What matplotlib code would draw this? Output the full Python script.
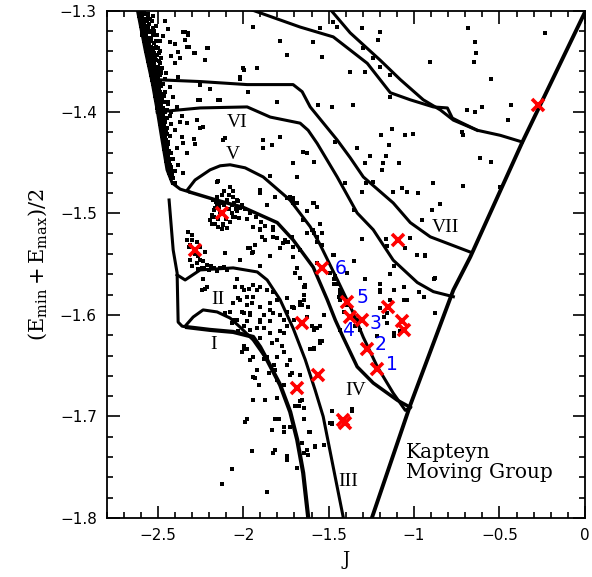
import numpy as np
import matplotlib
matplotlib.use('Agg')
import matplotlib.pyplot as plt

plt.rcParams['mathtext.fontset'] = 'dejavuserif'

# ---- curves (J, E) ----
env_J = [-2.625, -2.574, -2.533, -2.504, -2.475, -2.446, -2.416, -2.369, -2.311]
env_E = [-1.295, -1.339, -1.371, -1.398, -1.428, -1.457, -1.470, -1.476, -1.479]

iv_J = [-2.311, -2.153, -2.000, -1.801, -1.708, -1.590, -1.508, -1.461, -1.415,
        -1.333, -1.239, -1.098, -1.022]
iv_E = [-1.479, -1.487, -1.494, -1.509, -1.526, -1.553, -1.585, -1.605, -1.622,
        -1.651, -1.667, -1.684, -1.691]

v_J = [-2.328, -2.282, -2.194, -2.135, -2.077, -1.989, -1.883, -1.725, -1.608,
       -1.549, -1.450, -1.356, -1.297, -1.215, -1.122, -1.051, -1.022]
v_E = [-1.477, -1.467, -1.457, -1.453, -1.452, -1.455, -1.464, -1.487, -1.513,
       -1.531, -1.565, -1.598, -1.622, -1.651, -1.677, -1.694, -1.691]

vi_J = [-2.504, -2.252, -1.977, -1.842, -1.667, -1.620, -1.567, -1.450, -1.333,
        -1.239, -1.122, -0.981, -0.887, -0.770]
vi_E = [-1.400, -1.396, -1.395, -1.405, -1.411, -1.418, -1.431, -1.464, -1.4995,
        -1.516, -1.546, -1.568, -1.577, -1.582]

vii_J = [-2.535, -2.252, -1.977, -1.708, -1.655, -1.608, -1.450, -1.374, -1.297,
         -1.122, -1.022, -0.905, -0.671]
vii_E = [-1.368, -1.370, -1.373, -1.373, -1.380, -1.395, -1.4276, -1.445, -1.464,
         -1.4896, -1.509, -1.523, -1.538]

a1_J = [-1.500, -1.374, -1.198, -1.081, -0.946, -0.846, -0.770, -0.630, -0.495, -0.366]
a1_E = [-1.297, -1.322, -1.349, -1.368, -1.388, -1.398, -1.408, -1.418, -1.423, -1.4296]

a2_J = [-1.990, -1.667, -1.473, -1.274, -1.139, -1.022, -0.887, -0.805, -0.776,
        -0.729, -0.630]
a2_E = [-1.297, -1.3163, -1.326, -1.352, -1.381, -1.388, -1.395, -1.396, -1.406,
        -1.410, -1.418]

iii_J = [-2.387, -2.340, -2.252, -2.059, -1.918, -1.860, -1.784, -1.708, -1.637,
         -1.579, -1.532, -1.473, -1.415, -1.405]
iii_E = [-1.5605, -1.5655, -1.5556, -1.5536, -1.5576, -1.5655, -1.585, -1.613, -1.644,
         -1.674, -1.700, -1.750, -1.799, -1.81]

vert_J = [-2.434, -2.410, -2.387, -2.381, -2.358, -2.328]
vert_E = [-1.4867, -1.536, -1.5586, -1.607, -1.611, -1.612]

i_low_J = [-2.328, -2.194, -2.059, -1.942, -1.901, -1.860, -1.784, -1.725, -1.684,
           -1.649, -1.620, -1.617]
i_low_E = [-1.612, -1.6147, -1.6167, -1.6216, -1.6315, -1.6443, -1.6689, -1.6955,
           -1.723, -1.7556, -1.799, -1.81]

i_up_J = [-2.340, -2.293, -2.235, -2.153, -2.077, -2.018, -1.942, -1.860]
i_up_E = [-1.611, -1.602, -1.595, -1.597, -1.603, -1.612, -1.6246, -1.6443]

edge_J = [0.02, 0.005, -0.366, -0.671, -0.770, -1.022, -1.245, -1.27]
edge_E = [-1.285, -1.300, -1.4296, -1.5429, -1.5754, -1.6887, -1.799, -1.81]

# ---- stars: dense clump along the circular-orbit edge ----
clump_J = [-2.613, -2.598, -2.582, -2.608, -2.590, -2.604, -2.575, -2.548,
           -2.600, -2.582, -2.597, -2.568, -2.591, -2.562, -2.542, -2.522,
           -2.585, -2.583, -2.567, -2.548, -2.580, -2.540, -2.512, -2.490,
           -2.574, -2.555, -2.570, -2.522, -2.500, -2.567, -2.545, -2.527,
           -2.562, -2.538, -2.505, -2.558, -2.515, -2.480, -2.555, -2.532, -2.495,
           -2.550, -2.520, -2.546, -2.510, -2.475, -2.542, -2.528, -2.500,
           -2.537, -2.515, -2.490, -2.532, -2.505, -2.527, -2.513, -2.495, -2.470,
           -2.523, -2.500, -2.518, -2.505, -2.485, -2.455, -2.514, -2.495, -2.465,
           -2.510, -2.498, -2.478, -2.506, -2.488, -2.440, -2.502, -2.470,
           -2.498, -2.487, -2.455, -2.494, -2.478, -2.430, -2.490, -2.480, -2.462,
           -2.486, -2.468, -2.420, -2.482, -2.472, -2.445, -2.478, -2.458,
           -2.474, -2.465, -2.430, -2.470, -2.452, -2.466, -2.455, -2.440,
           -2.462, -2.448, -2.458, -2.448, -2.420, -2.454, -2.438, -2.450, -2.440,
           -2.446, -2.430, -2.442, -2.432, -2.437, -2.422, -2.425, -2.410,
           -2.412, -2.398]
clump_E = [-1.302, -1.302, -1.302, -1.305, -1.305, -1.308, -1.308, -1.308,
           -1.312, -1.312, -1.315, -1.315, -1.320, -1.320, -1.320, -1.320,
           -1.323, -1.327, -1.327, -1.327, -1.330, -1.330, -1.330, -1.330,
           -1.334, -1.334, -1.337, -1.337, -1.337, -1.340, -1.340, -1.340,
           -1.344, -1.344, -1.344, -1.347, -1.347, -1.347, -1.350, -1.350, -1.350,
           -1.354, -1.354, -1.357, -1.357, -1.357, -1.360, -1.360, -1.360,
           -1.364, -1.364, -1.364, -1.368, -1.368, -1.372, -1.372, -1.372, -1.372,
           -1.376, -1.376, -1.380, -1.380, -1.380, -1.380, -1.384, -1.384, -1.384,
           -1.388, -1.388, -1.388, -1.392, -1.392, -1.392, -1.396, -1.396,
           -1.400, -1.400, -1.400, -1.404, -1.404, -1.404, -1.408, -1.408, -1.408,
           -1.412, -1.412, -1.412, -1.416, -1.416, -1.416, -1.420, -1.420,
           -1.424, -1.424, -1.424, -1.428, -1.428, -1.432, -1.432, -1.432,
           -1.436, -1.436, -1.440, -1.440, -1.440, -1.444, -1.444, -1.448, -1.448,
           -1.452, -1.452, -1.456, -1.456, -1.460, -1.460, -1.465, -1.465,
           -1.470, -1.470]

clump2_J = [-2.603, -2.570, -2.555, -2.595, -2.560, -2.590, -2.565, -2.535,
            -2.585, -2.552, -2.578, -2.555, -2.530, -2.575, -2.548,
            -2.592, -2.570, -2.530, -2.505, -2.562, -2.540, -2.570, -2.552, -2.525,
            -2.562, -2.540, -2.510, -2.555, -2.530, -2.550, -2.520, -2.495,
            -2.548, -2.530, -2.540, -2.512, -2.545, -2.525, -2.485, -2.535, -2.500,
            -2.530, -2.515, -2.525, -2.505, -2.480, -2.530, -2.520, -2.498,
            -2.522, -2.485, -2.518, -2.505, -2.480, -2.515, -2.492,
            -2.510, -2.500, -2.475, -2.505, -2.488, -2.500, -2.480, -2.460,
            -2.498, -2.484, -2.493, -2.478, -2.448, -2.490, -2.468,
            -2.485, -2.472, -2.445, -2.482, -2.460, -2.478, -2.465, -2.475, -2.452,
            -2.470, -2.445, -2.466, -2.456, -2.462, -2.440, -2.458, -2.448,
            -2.455, -2.435, -2.450, -2.440, -2.446, -2.428, -2.442, -2.432,
            -2.438, -2.422, -2.432, -2.415, -2.428, -2.418]
clump2_E = [-1.303, -1.303, -1.303, -1.306, -1.306, -1.310, -1.310, -1.310,
            -1.313, -1.313, -1.317, -1.317, -1.317, -1.321, -1.321,
            -1.324, -1.324, -1.324, -1.324, -1.328, -1.328, -1.332, -1.332, -1.332,
            -1.336, -1.336, -1.336, -1.339, -1.339, -1.342, -1.342, -1.342,
            -1.346, -1.346, -1.349, -1.349, -1.352, -1.352, -1.352, -1.356, -1.356,
            -1.359, -1.359, -1.362, -1.362, -1.362, -1.366, -1.366, -1.366,
            -1.370, -1.370, -1.374, -1.374, -1.374, -1.378, -1.378,
            -1.382, -1.382, -1.382, -1.386, -1.386, -1.390, -1.390, -1.390,
            -1.394, -1.394, -1.398, -1.398, -1.398, -1.402, -1.402,
            -1.406, -1.406, -1.406, -1.410, -1.410, -1.414, -1.414, -1.418, -1.418,
            -1.422, -1.422, -1.426, -1.426, -1.430, -1.430, -1.434, -1.434,
            -1.438, -1.438, -1.442, -1.442, -1.446, -1.446, -1.450, -1.450,
            -1.454, -1.454, -1.458, -1.458, -1.462, -1.462]

halo_J = [-2.350, -2.326, -2.340, -2.320, -2.213, -1.998, -2.018, -2.291, -2.369,
          -2.252, -2.194, -2.145, -2.262, -2.272, -2.252, -2.291, -2.106, -2.350,
          -2.281, -2.145, -2.330, -2.360, -2.379, -2.399, -2.428, -2.460, -2.440,
          -2.470, -2.420, -2.400, -2.450, -2.380, -2.430, -2.410, -2.390, -2.420,
          -2.370, -2.400, -2.360, -2.390, -2.330, -2.410, -2.380, -2.350, -2.400,
          -2.510, -2.530, -2.490, -2.460, -2.440, -2.480,
          -2.340, -2.323, -2.328, -2.282, -2.206, -2.223, -2.252, -2.135, -2.235,
          -2.282, -2.118, -2.153]
halo_E = [-1.321, -1.322, -1.329, -1.336, -1.337, -1.359, -1.367, -1.342, -1.347,
          -1.373, -1.377, -1.388, -1.388, -1.408, -1.416, -1.427, -1.426, -1.431,
          -1.432, -1.468, -1.411, -1.404, -1.341, -1.333, -1.331, -1.310, -1.318,
          -1.325, -1.345, -1.352, -1.362, -1.366, -1.375, -1.385, -1.395, -1.400,
          -1.410, -1.418, -1.425, -1.435, -1.440, -1.446, -1.452, -1.460, -1.458,
          -1.315, -1.305, -1.340, -1.367, -1.390, -1.360,
          -1.321, -1.324, -1.336, -1.342, -1.337, -1.349, -1.388, -1.388, -1.415,
          -1.432, -1.428, -1.469]

# two small clumps (around the stars at J~-2.12 and J~-2.28)
blob_J = [-2.174, -2.155, -2.135, -2.096, -2.067, -2.037, -2.018, -2.194, -2.164,
          -2.116, -2.077, -2.047, -2.125, -2.086, -2.028, -2.184, -2.145,
          -2.176, -2.153, -2.094, -2.077, -2.059, -2.035, -2.006, -2.182, -2.118,
          -2.059, -2.165, -2.135,
          -2.160, -2.140, -2.110, -2.085, -2.055, -2.045, -2.170, -2.150, -2.100,
          -2.065, -2.125, -2.095, -2.180, -2.025, -2.110, -2.060,
          -2.321, -2.301, -2.330, -2.311, -2.272, -2.252, -2.291, -2.262, -2.233,
          -2.213, -2.311, -2.243, -2.203, -2.174, -2.135, -2.096, -2.272, -2.223,
          -2.233, -2.223, -2.213,
          -2.300, -2.320, -2.285, -2.255, -2.300, -2.265, -2.230, -2.190, -2.155,
          -2.115]
blob_E = [-1.497, -1.492, -1.490, -1.487, -1.492, -1.498, -1.495, -1.506, -1.510,
          -1.510, -1.508, -1.503, -1.482, -1.482, -1.488, -1.501, -1.513,
          -1.487, -1.484, -1.487, -1.474, -1.484, -1.487, -1.492, -1.503, -1.511,
          -1.503, -1.495, -1.499,
          -1.489, -1.494, -1.492, -1.496, -1.490, -1.496, -1.503, -1.505, -1.505,
          -1.500, -1.515, -1.514, -1.510, -1.504, -1.478, -1.478,
          -1.518, -1.521, -1.526, -1.531, -1.528, -1.533, -1.538, -1.542, -1.547,
          -1.551, -1.546, -1.554, -1.556, -1.554, -1.554, -1.556, -1.549, -1.538,
          -1.565, -1.574, -1.572,
          -1.526, -1.533, -1.540, -1.546, -1.552, -1.555, -1.554, -1.552, -1.557,
          -1.553]

# scattered field stars
field_J = [-1.473, -1.450, -1.549, -1.590, -1.538, -1.303, -1.198, -1.210, -1.297,
           -1.239, -1.198, -1.374, -1.286, -1.139, -0.905, -0.682, -0.641, -0.635,
           -0.647, -0.231, -0.547, -1.561, -1.479, -1.356, -1.139, -0.688, -0.641,
           -0.600, -0.430, -0.448, -0.717, -0.711, -1.128, -1.192, -1.051, -1.004,
           -1.461, -1.145, -1.333, -1.649, -1.585, -1.257, -1.163, -0.612, -0.547,
           -1.286, -1.180, -1.087, -1.186, -1.239, -1.280, -1.403, -0.887, -0.711,
           -0.495, -1.122, -1.069, -1.040, -0.975, -1.303, -1.590, -0.846, -0.893,
           -1.350, -0.952, -1.022, -1.163, -1.157, -1.303, -0.981, -0.934, -1.051,
           -1.473,
           -2.000, -1.918, -2.018, -1.971, -1.801, -1.883, -1.830, -1.842, -1.684,
           -1.901, -1.813, -1.743, -1.708, -1.825, -1.889, -1.942, -1.930, -1.842,
           -1.737, -1.754, -1.713, -1.971, -1.942, -1.784, -1.743,
           -1.883, -1.784, -1.708, -1.626, -1.901, -1.725, -1.708, -1.567, -1.626,
           -1.538, -1.590, -1.626, -1.649, -1.942, -1.901, -1.872, -1.825, -1.766,
           -1.708, -1.947, -1.708,
           -1.990, -1.960, -1.925, -1.975, -1.895, -1.870]
field_E = [-1.311, -1.316, -1.317, -1.331, -1.346, -1.317, -1.321, -1.329, -1.337,
           -1.347, -1.356, -1.361, -1.361, -1.364, -1.351, -1.317, -1.331, -1.342,
           -1.351, -1.322, -1.367, -1.393, -1.395, -1.393, -1.385, -1.398, -1.400,
           -1.395, -1.393, -1.408, -1.420, -1.423, -1.417, -1.423, -1.423, -1.422,
           -1.430, -1.433, -1.435, -1.439, -1.449, -1.443, -1.443, -1.445, -1.449,
           -1.450, -1.450, -1.450, -1.457, -1.469, -1.470, -1.470, -1.470, -1.473,
           -1.474, -1.479, -1.475, -1.479, -1.480, -1.479, -1.490, -1.491, -1.497,
           -1.497, -1.506, -1.524, -1.525, -1.532, -1.525, -1.541, -1.542, -1.534,
           -1.541,
           -1.357, -1.357, -1.366, -1.380, -1.390, -1.435, -1.433, -1.463, -1.464,
           -1.477, -1.484, -1.485, -1.485, -1.513, -1.523, -1.513, -1.531, -1.542,
           -1.528, -1.526, -1.523, -1.534, -1.316, -1.330, -1.344,
           -1.428, -1.425, -1.450, -1.440, -1.480, -1.484, -1.490, -1.494, -1.498,
           -1.519, -1.516, -1.519, -1.506, -1.513, -1.516, -1.526, -1.523, -1.529,
           -1.533, -1.539, -1.543,
           -1.496, -1.500, -1.503, -1.505, -1.508, -1.512]

# stars in the lower part of the diagram
low_J = [-2.233, -2.223, -2.106, -2.018, -1.959, -1.940, -1.901, -1.862, -1.823,
         -1.803, -1.744, -1.686, -1.647, -1.618, -1.920, -1.901, -1.998, -2.018,
         -1.979, -2.037, -1.950, -1.901, -1.823, -1.764, -1.744, -1.803, -1.588,
         -1.569, -1.549, -1.666, -1.784, -1.901, -2.037, -2.028, -1.998, -2.106,
         -2.077, -2.067, -2.242,
         -2.213, -2.047, -2.008, -1.969, -2.028, -1.940, -2.057, -1.979, -2.008,
         -1.959, -1.901, -2.057, -1.881, -1.959, -1.998, -2.008, -1.979, -1.940,
         -1.881, -1.832, -1.803, -1.822, -1.852, -1.940, -1.910, -1.940, -1.989,
         -1.803, -1.793, -1.832, -1.950, -1.813, -1.744, -1.686, -1.627, -1.617,
         -1.647, -1.696, -1.666, -1.725, -1.666, -1.725, -1.637, -1.686, -1.696,
         -1.666, -1.657, -1.569, -1.588, -1.539, -1.608, -1.578, -1.530, -1.490,
         -2.067, -2.125, -1.862, -1.920, -1.901, -1.920, -1.842, -1.803, -1.774,
         -1.764, -1.783, -1.744, -1.627, -1.705, -1.881, -1.979, -1.842, -1.823,
         -1.862, -1.940, -1.666]
low_E = [-1.565, -1.574, -1.539, -1.546, -1.534, -1.538, -1.515, -1.492, -1.516,
         -1.524, -1.528, -1.554, -1.572, -1.592, -1.575, -1.572, -1.575, -1.585,
         -1.582, -1.565, -1.588, -1.592, -1.598, -1.605, -1.611, -1.585, -1.519,
         -1.528, -1.510, -1.536, -1.534, -1.552, -1.605, -1.616, -1.611, -1.598,
         -1.597, -1.608, -1.575,
         -1.572, -1.572, -1.572, -1.574, -1.583, -1.582, -1.588, -1.590, -1.597,
         -1.598, -1.605, -1.605, -1.613, -1.615, -1.631, -1.636, -1.634, -1.641,
         -1.643, -1.628, -1.641, -1.649, -1.657, -1.661, -1.669, -1.684, -1.705,
         -1.682, -1.702, -1.713, -1.734, -1.733, -1.743, -1.751, -1.733, -1.715,
         -1.702, -1.690, -1.685, -1.659, -1.659, -1.644, -1.570, -1.554, -1.559,
         -1.587, -1.590, -1.613, -1.633, -1.626, -1.715, -1.729, -1.728, -1.706,
         -1.752, -1.767, -1.774, -1.654, -1.623, -1.613, -1.606, -1.625, -1.631,
         -1.636, -1.616, -1.597, -1.602, -1.593, -1.600, -1.606, -1.588, -1.577,
         -1.575, -1.570, -1.564]

mid_J = [-1.998, -1.959, -1.901, -1.901, -1.842, -1.998, -1.959, -1.930, -1.940,
         -1.979, -1.813, -1.803, -1.764, -1.764, -1.715, -1.705, -1.588, -1.549,
         -1.608, -1.715, -1.657, -1.676, -1.647, -1.813, -1.764, -1.657, -1.618,
         -1.578, -1.744, -1.823, -1.950, -1.862, -1.666, -1.705, -1.764, -1.725,
         -1.481, -1.481, -1.364, -1.530, -1.432, -1.432, -1.842, -1.784, -1.862,
         -1.872, -1.744,
         -1.706, -1.686, -1.588, -1.598, -1.588, -1.569, -1.539, -1.471, -1.461,
         -1.452, -1.432, -1.442, -1.412, -1.735, -1.686, -1.696, -1.647, -1.569,
         -1.745, -1.637, -1.706, -1.598, -1.549, -1.286, -1.198, -1.120, -1.061,
         -1.139, -1.198, -1.159, -1.120, -1.217, -0.885, -0.944, -0.875, -0.983,
         -0.934, -1.471, -1.491, -1.422, -1.393, -1.334, -1.315, -1.364, -1.344,
         -1.471, -1.354, -1.393, -1.471, -1.432, -1.647, -1.578, -1.549, -1.588,
         -1.608, -1.578, -1.647, -1.481, -1.481, -1.364, -1.198, -1.120, -1.139,
         -1.061, -1.041, -0.983, -0.934, -0.875, -0.973, -1.178, -1.120, -1.081,
         -1.159, -1.198]
mid_E = [-1.598, -1.600, -1.592, -1.607, -1.618, -1.634, -1.644, -1.662, -1.684,
         -1.702, -1.654, -1.664, -1.669, -1.618, -1.592, -1.605, -1.615, -1.626,
         -1.634, -1.657, -1.684, -1.690, -1.692, -1.702, -1.715, -1.726, -1.738,
         -1.730, -1.739, -1.736, -1.734, -1.774, -1.590, -1.593, -1.710, -1.710,
         -1.695, -1.707, -1.693, -1.600, -1.585, -1.615, -1.595, -1.600, -1.641,
         -1.684, -1.649,
         -1.487, -1.490, -1.490, -1.516, -1.519, -1.523, -1.531, -1.541, -1.562,
         -1.569, -1.575, -1.582, -1.597, -1.528, -1.554, -1.559, -1.580, -1.549,
         -1.583, -1.572, -1.592, -1.611, -1.611, -1.565, -1.575, -1.575, -1.585,
         -1.585, -1.593, -1.598, -1.618, -1.621, -1.565, -1.582, -1.598, -1.541,
         -1.542, -1.565, -1.559, -1.580, -1.590, -1.605, -1.615, -1.603, -1.611,
         -1.541, -1.547, -1.559, -1.569, -1.579, -1.585, -1.613, -1.628, -1.634,
         -1.715, -1.729, -1.736, -1.695, -1.706, -1.695, -1.569, -1.552, -1.560,
         -1.572, -1.585, -1.541, -1.541, -1.564, -1.577, -1.602, -1.621, -1.616,
         -1.608, -1.577]

# Kapteyn group members (red crosses)
kap_J = [-2.123, -2.282, -0.272, -1.092, -1.538, -1.391, -1.374, -1.303, -1.274,
         -1.215, -1.151, -1.069, -1.057, -1.655, -1.561, -1.684, -1.418, -1.402]
kap_E = [-1.500, -1.536, -1.393, -1.526, -1.554, -1.587, -1.602, -1.605, -1.634,
         -1.653, -1.592, -1.606, -1.615, -1.608, -1.659, -1.672, -1.703, -1.706]

num_text = ['6', '5', '4', '3', '2', '1']
num_J = [-1.432, -1.303, -1.385, -1.227, -1.198, -1.128]
num_E = [-1.554, -1.583, -1.615, -1.608, -1.629, -1.649]

roman_text = ['VII', 'VI', 'V', 'IV', 'III', 'II', 'I']
roman_J = [-0.817, -2.036, -2.059, -1.344, -1.385, -2.147, -2.176]
roman_E = [-1.514, -1.410, -1.442, -1.674, -1.764, -1.585, -1.629]


fig = plt.figure(figsize=(5.92, 5.77), dpi=100)
ax = fig.add_axes([0.180, 0.1023, 0.808, 0.8795])

curves = [(env_J, env_E), (v_J, v_E), (vi_J, vi_E),
          (vii_J, vii_E), (a1_J, a1_E), (a2_J, a2_E), (iii_J, iii_E),
          (vert_J, vert_E), (i_up_J, i_up_E)]
for cj, ce in curves:
    ax.plot(cj, ce, color='black', lw=2.2, solid_joinstyle='round', zorder=3)
ax.plot(iv_J, iv_E, color='black', lw=2.5, solid_joinstyle='round', zorder=3)
ax.plot(i_low_J, i_low_E, color='black', lw=3.0, solid_joinstyle='round', zorder=3)
ax.plot(edge_J, edge_E, color='black', lw=2.8, zorder=3)

for sj, se in [(clump_J, clump_E), (clump2_J, clump2_E), (halo_J, halo_E),
               (blob_J, blob_E), (field_J, field_E), (low_J, low_E),
               (mid_J, mid_E)]:
    ax.plot(sj, se, 's', color='black', ms=2.5, mew=0, zorder=2)

ax.plot(kap_J, kap_E, 'x', color='red', ms=9, mew=2.6, zorder=5)

for t, xj, ye in zip(num_text, num_J, num_E):
    ax.text(xj, ye, t, color='blue', fontsize=13.5, ha='center', va='center',
            zorder=6)
for t, xj, ye in zip(roman_text, roman_J, roman_E):
    ax.text(xj, ye, t, color='black', fontsize=14, ha='center', va='center',
            family='Liberation Serif', zorder=6)
ax.text(-1.045, -1.745, 'Kapteyn\nMoving Group', fontsize=14.5, ha='left',
        va='center', family='DejaVu Serif', linespacing=1.05)

ax.set_xlim(-2.8, 0)
ax.set_ylim(-1.8, -1.3)
ax.set_xticks(np.arange(-2.5, 0.01, 0.5))
ax.set_xticks(np.arange(-2.8, 0.01, 0.1), minor=True)
ax.set_yticks(np.arange(-1.8, -1.29, 0.1))
ax.set_yticks(np.arange(-1.8, -1.29, 0.02), minor=True)
ax.set_xticklabels(['\u22122.5', '\u22122', '\u22121.5', '\u22121', '\u22120.5', '0'])
ax.set_yticklabels(['\u22121.8', '\u22121.7', '\u22121.6', '\u22121.5', '\u22121.4', '\u22121.3'])
ax.tick_params(which='both', direction='in', top=True, right=True, width=1.2)
ax.tick_params(which='major', length=9, labelsize=11, pad=7)
ax.tick_params(which='minor', length=4.5)
for s in ax.spines.values():
    s.set_linewidth(1.3)

ax.set_xlabel('J', fontsize=13, family='DejaVu Serif', labelpad=6)
ax.set_ylabel(r'$(\mathrm{E_{min}}+\mathrm{E_{max}})/2$', fontsize=15, labelpad=8)

fig.savefig('out.png', dpi=100)
